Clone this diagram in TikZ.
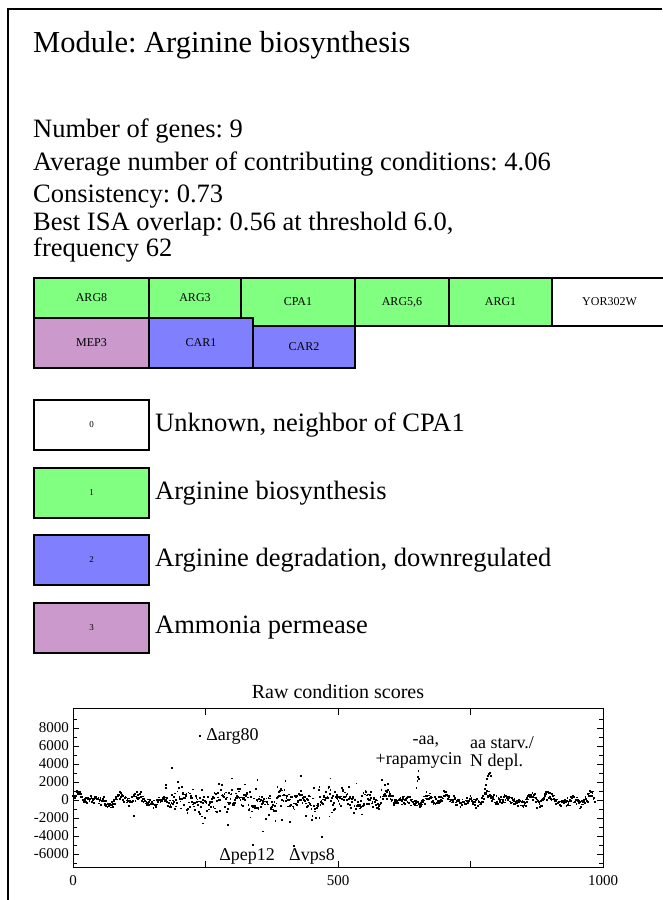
\documentclass[tikz,border=0pt]{standalone}
\usepackage{fontspec}
\setmainfont{Liberation Serif}
\usetikzlibrary{positioning}
\definecolor{bioGreen}{RGB}{128,255,128}
\definecolor{degBlue}{RGB}{128,128,255}
\definecolor{permPink}{RGB}{204,153,204}
\frenchspacing

\begin{document}
\begin{tikzpicture}[x=1pt,y=-1pt,line join=miter]
  \tikzstyle{gene}=[draw,line width=2pt,anchor=north west,inner sep=0pt,font=\fontsize{12}{14}\selectfont]
  \tikzstyle{legbox}=[gene,minimum width=115pt,minimum height=50pt,font=\fontsize{9}{10}\selectfont]
  \tikzstyle{legtext}=[anchor=west,inner sep=0pt,font=\fontsize{26.5}{30}\selectfont]
  \tikzstyle{info}=[anchor=base west,inner sep=0pt,align=left,font=\fontsize{26.5}{23}\selectfont]
  \tikzstyle{note}=[inner sep=0pt,font=\fontsize{18}{18}\selectfont]
  \tikzstyle{tick}=[inner sep=0pt,font=\fontsize{15}{15}\selectfont]
  \tikzstyle{dot}=[fill=black]
  \useasboundingbox (0,0) rectangle (662,900);
  \fill[white] (0,0) rectangle (662,900);
  \draw[line width=2pt] (8,900) -- (8,9) -- (662,9);

  % header
  \node[info,font=\fontsize{30.5}{34}\selectfont] (title) at (33,52) {Module: Arginine biosynthesis};
  \node[info] (ngenes)  at (33,137) {Number of genes: 9};
  \node[info] (avgcond) at (33,170) {Average number of contributing conditions: 4.06};
  \node[info] (consist) at (33,202) {Consistency: 0.73};
  \node[info] (isa)     at (33,256) {Best ISA overlap: 0.56 at threshold 6.0,\\frequency 62};

  % genes
  \node[gene,fill=bioGreen,minimum width=115pt,minimum height=40pt] (ARG8) at (33,277) {ARG8};
  \node[gene,fill=bioGreen,minimum width=92pt,minimum height=40pt] (ARG3) at (148,277) {ARG3};
  \node[gene,fill=bioGreen,minimum width=114pt,minimum height=48pt] (CPA1) at (240,277) {CPA1};
  \node[gene,fill=bioGreen,minimum width=94pt,minimum height=48pt] (ARG56) at (354,277) {ARG5,6};
  \node[gene,fill=bioGreen,minimum width=103pt,minimum height=48pt] (ARG1) at (448,277) {ARG1};
  \node[gene,fill=white,minimum width=115pt,minimum height=48pt] (YOR302W) at (551,277) {YOR302W};
  \node[gene,fill=permPink,minimum width=115pt,minimum height=50pt] (MEP3) at (33,317) {MEP3};
  \node[gene,fill=degBlue,minimum width=104pt,minimum height=50pt] (CAR1) at (148,317) {CAR1};
  \node[gene,fill=degBlue,minimum width=102pt,minimum height=42pt] (CAR2) at (252,325) {CAR2};

  % legend
  \node[legbox,fill=white] (leg0) at (33,399) {0};
  \node[legbox,fill=bioGreen] (leg1) at (33,467) {1};
  \node[legbox,fill=degBlue] (leg2) at (33,534) {2};
  \node[legbox,fill=permPink] (leg3) at (33,602) {3};
  \node[legtext,right=5pt of leg0] (lab0) {Unknown, neighbor of CPA1};
  \node[legtext,right=5pt of leg1] (lab1) {Arginine biosynthesis};
  \node[legtext,right=5pt of leg2] (lab2) {Arginine degradation, downregulated};
  \node[legtext,right=5pt of leg3] (lab3) {Ammonia permease};

  % scores
  \node[note,font=\fontsize{20}{22}\selectfont] (plottitle) at (338,692) {Raw condition scores};
  \begin{scope}[shift={(73,800)},x=0.53pt,y=0.009pt]
    \draw[line width=1pt] (0,-7444) rectangle (1000,10111);
    \foreach \t [count=\k] in {-6000,-4000,...,8000} {
      \draw (0,\t) -- ++(6pt,0pt);
      \draw (1000,\t) -- ++(-6pt,0pt);
      \node[tick,left=4pt] (ylab\k) at (0,\t) {\t};
    }
    \foreach \t in {-7000,-5000,...,9000} {
      \draw (0,\t) -- ++(4pt,0pt);
      \draw (1000,\t) -- ++(-4pt,0pt);
    }
    \foreach \t in {0,250,...,1000} {
      \draw (\t,-7444) -- ++(0pt,6pt);
      \draw (\t,10111) -- ++(0pt,-6pt);
    }
    \foreach \t [count=\k] in {0,500,1000}
      \node[tick,below=8pt] (xlab\k) at (\t,-7444) {\t};
    \pgfmathsetseed{11}
    \foreach \i in {0,...,985} {
      \pgfmathsetmacro{\rA}{rand}
      \pgfmathsetmacro{\rB}{rand}
      \pgfmathsetmacro{\inmid}{(\i>185)*(\i<600)}
      \pgfmathsetmacro{\v}{320*sin(9.3*\i)+240*sin(3.7*\i+40)+150*sin(13*\i)+(380+300*\inmid)*\rA+(350+1350*\inmid)*\rB*\rB*\rB}
      \fill[dot] (\i,\v) ++(-0.9pt,-0.9pt) rectangle ++(1.8pt,1.8pt);
    }
    \foreach \i/\v in {115/-1800,175/1700,176/1300,187/3600,245/-2600,292/-2800,300/2400,
        348/2200,358/-3500,395/-2200,410/-2400,430/2700,465/-2000,470/-4100,486/2400,
        648/1300,650/2100,651/2600,652/3200,653/2300,777/1200,779/1700,781/2300,
        783/2700,785/2900,787/3000,789/2700}
      \fill[dot] (\i,\v) ++(-0.9pt,-0.9pt) rectangle ++(1.8pt,1.8pt);
    \coordinate (arg80pt) at (240,7100);
    \coordinate (pep12pt) at (340,-5000);
    \coordinate (vps8pt) at (417,-5100);
    \foreach \c in {arg80pt,pep12pt,vps8pt}
      \fill[dot] (\c) ++(-0.9pt,-0.9pt) rectangle ++(1.8pt,1.8pt);
    \node[note,right=6pt of arg80pt] (arg80) {Δarg80};
    \node[note,below=3pt of pep12pt,xshift=-6pt] (pep12) {Δpep12};
    \node[note,anchor=north west,yshift=-2pt,xshift=-5pt] (vps8) at (vps8pt) {Δvps8};
    \node[note] (aa) at (666,6444) {-aa,};
    \node[note,anchor=east] (rapa) at (734,4444) {+rapamycin};
    \node[note,align=left,anchor=west] (starv) at (749,5167) {aa starv./\\N depl.};
  \end{scope}
\end{tikzpicture}
\end{document}
